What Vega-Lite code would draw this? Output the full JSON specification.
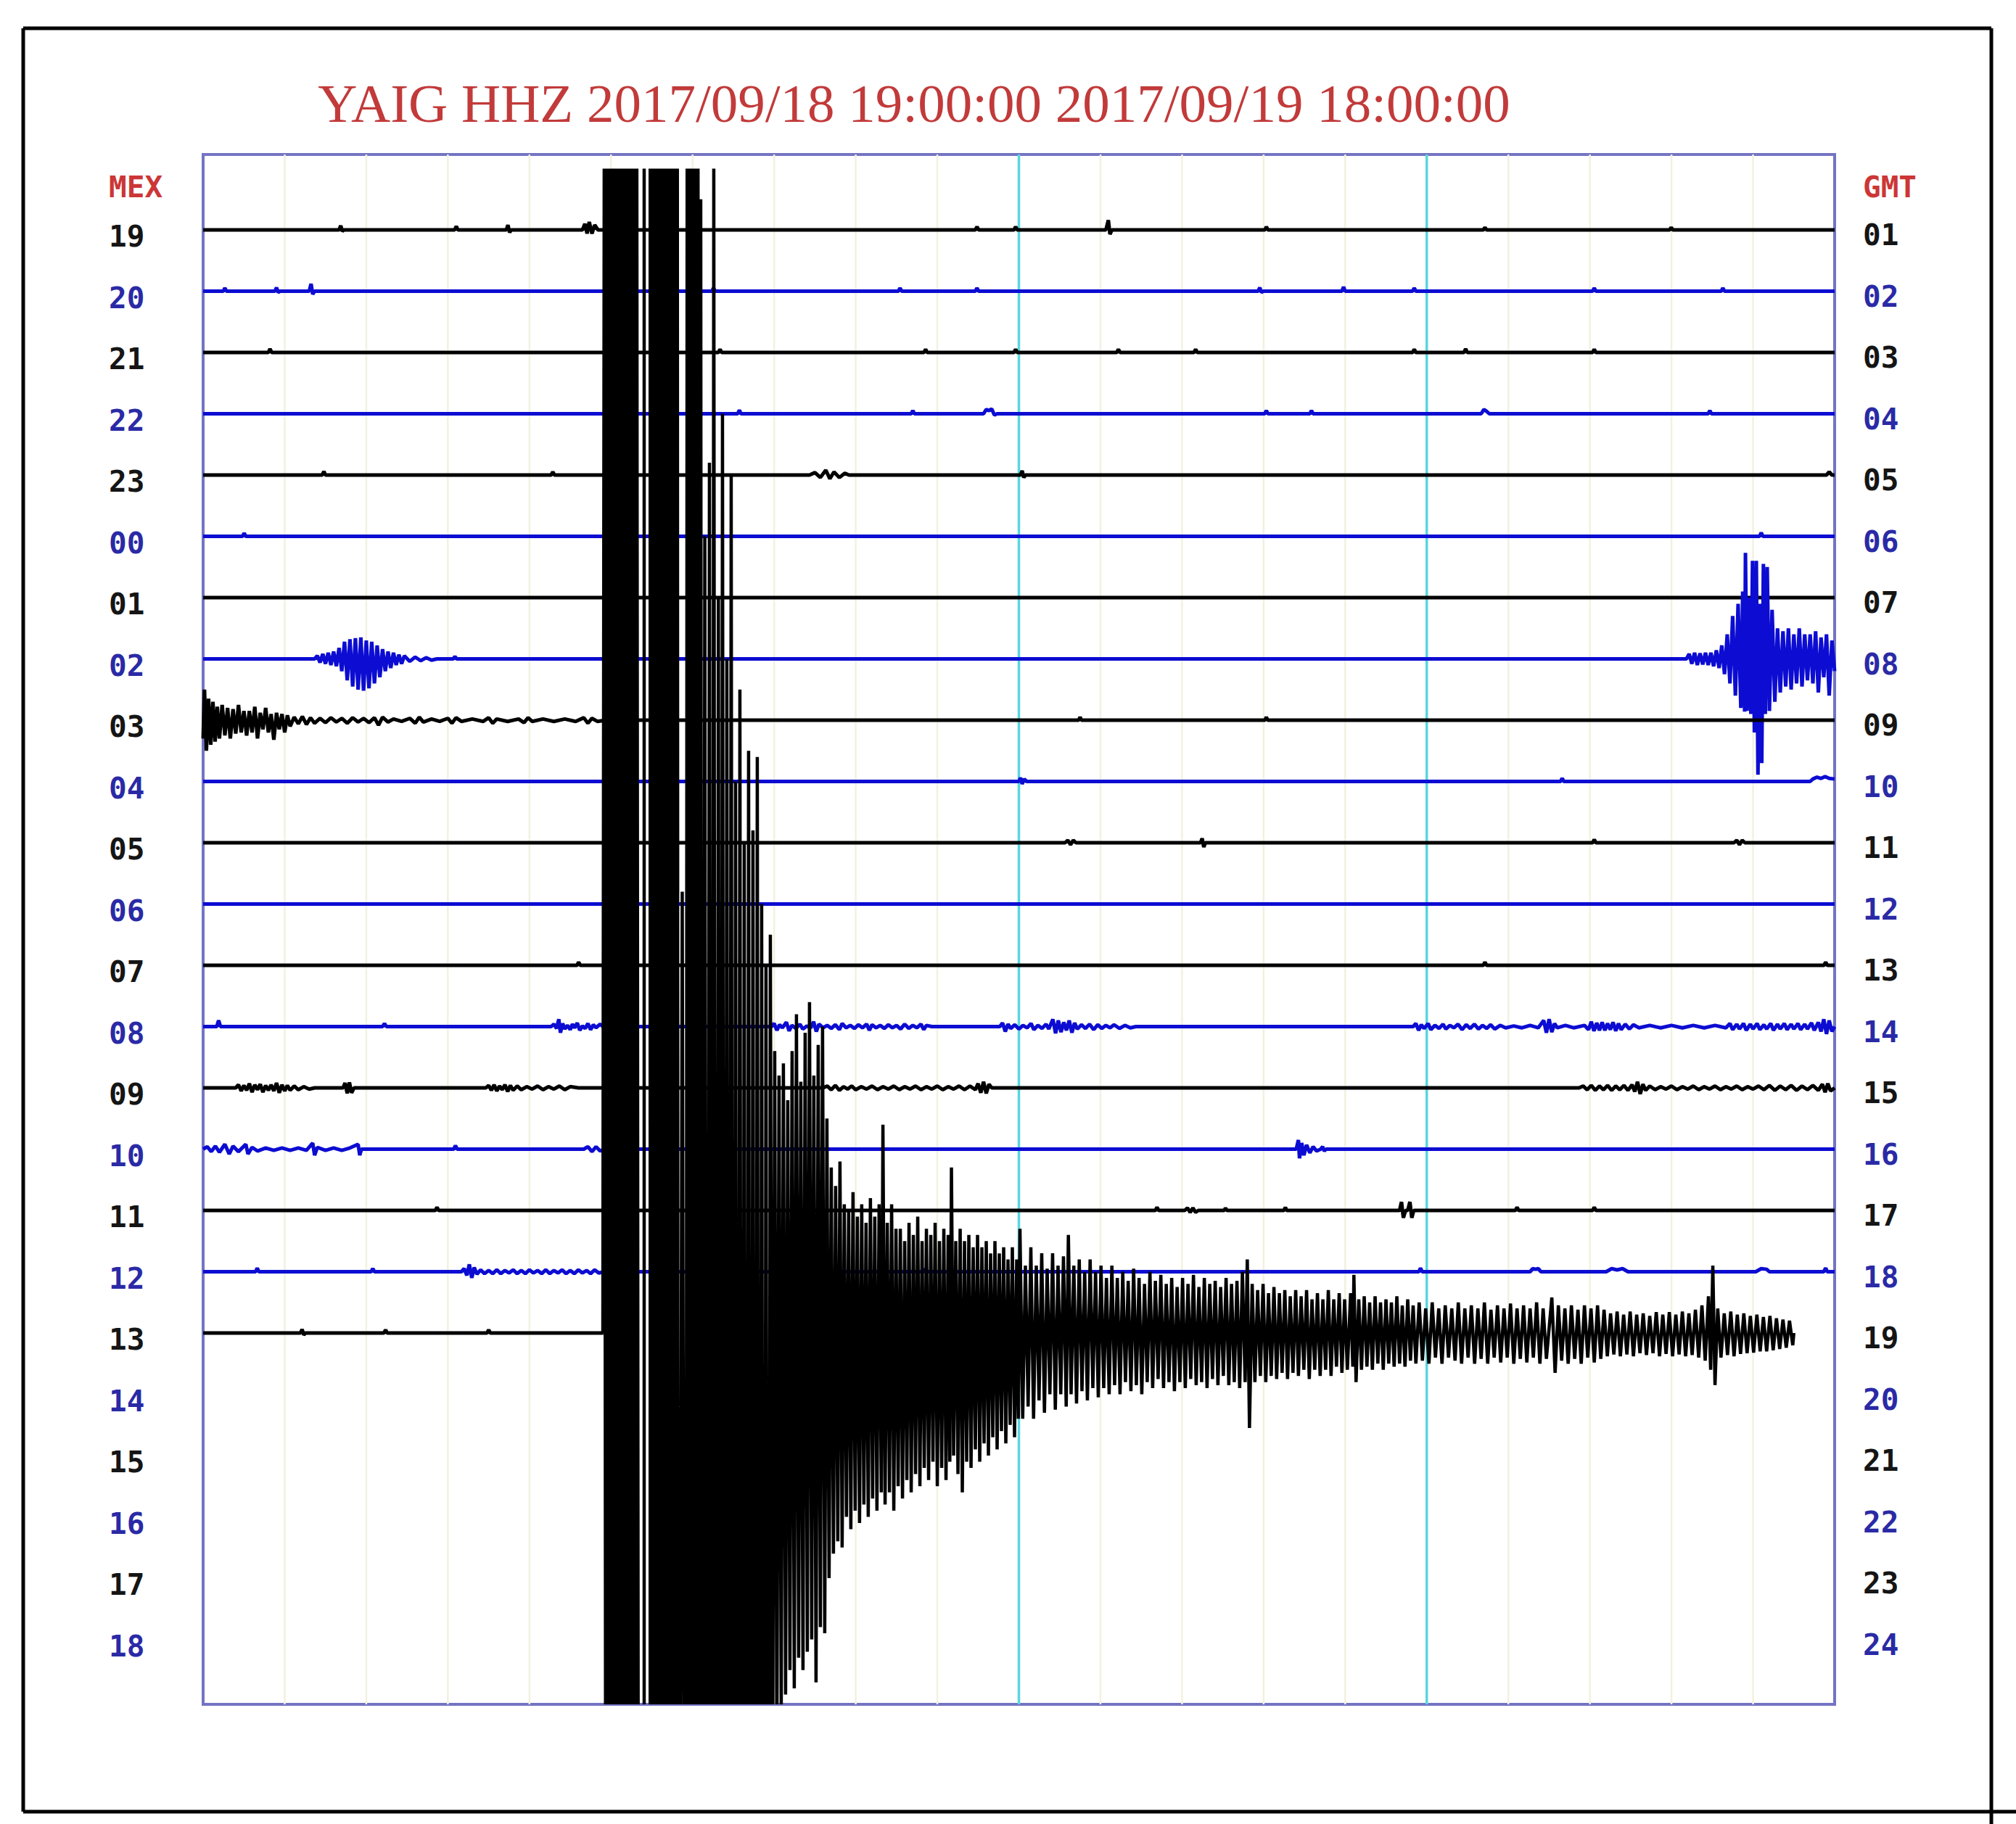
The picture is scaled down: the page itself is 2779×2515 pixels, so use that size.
{
"$schema": "https://vega.github.io/schema/vega-lite/v6.json",
"width": 2249,
"height": 2137,
"autosize": {"type": "none"},
"padding": {"left": 280, "top": 213, "right": 250, "bottom": 165},
"background": "#ffffff",
"config": {"view": {"stroke": "#7474c4", "strokeWidth": 4}},
"datasets": {
"grid": [{"t":3},{"t":6},{"t":9},{"t":12},{"t":15},{"t":18},{"t":21},{"t":24},{"t":27},{"t":33},{"t":36},{"t":39},{"t":42},{"t":48},{"t":51},{"t":54},{"t":57}],
"cyan": [{"t":30},{"t":45}],
"lab": [{"r":0,"m":"19","g":"01"},{"r":1,"m":"20","g":"02"},{"r":2,"m":"21","g":"03"},{"r":3,"m":"22","g":"04"},{"r":4,"m":"23","g":"05"},{"r":5,"m":"00","g":"06"},{"r":6,"m":"01","g":"07"},{"r":7,"m":"02","g":"08"},{"r":8,"m":"03","g":"09"},{"r":9,"m":"04","g":"10"},{"r":10,"m":"05","g":"11"},{"r":11,"m":"06","g":"12"},{"r":12,"m":"07","g":"13"},{"r":13,"m":"08","g":"14"},{"r":14,"m":"09","g":"15"},{"r":15,"m":"10","g":"16"},{"r":16,"m":"11","g":"17"},{"r":17,"m":"12","g":"18"},{"r":18,"m":"13","g":"19"},{"r":19,"m":"14","g":"20"},{"r":20,"m":"15","g":"21"},{"r":21,"m":"16","g":"22"},{"r":22,"m":"17","g":"23"},{"r":23,"m":"18","g":"24"}],
"tr": [
{"s":0,"t":0,"y":0},{"s":0,"t":5,"y":0},{"s":0,"t":5.06,"y":-0.07},{"s":0,"t":5.12,"y":0.02},{"s":0,"t":5.18,"y":0},{"s":0,"t":9.25,"y":0},{"s":0,"t":9.31,"y":-0.06},{"s":0,"t":9.37,"y":0},{"s":0,"t":11.15,"y":0},{"s":0,"t":11.21,"y":-0.08},{"s":0,"t":11.27,"y":0.04},{"s":0,"t":11.33,"y":0},{"s":0,"t":13.95,"y":0},{"s":0,"t":14.04,"y":-0.1},{"s":0,"t":14.12,"y":0.06},{"s":0,"t":14.2,"y":-0.13},{"s":0,"t":14.3,"y":0.06},{"s":0,"t":14.4,"y":-0.08},{"s":0,"t":14.52,"y":0},{"s":0,"t":28.4,"y":0},{"s":0,"t":28.46,"y":-0.05},{"s":0,"t":28.52,"y":0},{"s":0,"t":29.82,"y":0},{"s":0,"t":29.88,"y":-0.05},{"s":0,"t":29.94,"y":0},{"s":0,"t":33.2,"y":0},{"s":0,"t":33.29,"y":-0.16},{"s":0,"t":33.35,"y":0.07},{"s":0,"t":33.42,"y":0},{"s":0,"t":39.05,"y":0},{"s":0,"t":39.1,"y":-0.05},{"s":0,"t":39.16,"y":0},{"s":0,"t":47.08,"y":0},{"s":0,"t":47.14,"y":-0.04},{"s":0,"t":47.2,"y":0},{"s":0,"t":53.93,"y":0},{"s":0,"t":53.99,"y":-0.04},{"s":0,"t":54.05,"y":0},{"s":0,"t":60,"y":0},
{"s":1,"t":0,"y":1},{"s":1,"t":0.74,"y":1},{"s":1,"t":0.8,"y":0.95},{"s":1,"t":0.86,"y":1},{"s":1,"t":2.64,"y":1},{"s":1,"t":2.7,"y":0.94},{"s":1,"t":2.76,"y":1.02},{"s":1,"t":2.82,"y":1},{"s":1,"t":3.9,"y":1},{"s":1,"t":3.97,"y":0.88},{"s":1,"t":4.03,"y":1.05},{"s":1,"t":4.1,"y":1},{"s":1,"t":18.71,"y":1},{"s":1,"t":18.77,"y":0.95},{"s":1,"t":18.83,"y":1},{"s":1,"t":25.57,"y":1},{"s":1,"t":25.63,"y":0.95},{"s":1,"t":25.69,"y":1},{"s":1,"t":28.4,"y":1},{"s":1,"t":28.46,"y":0.95},{"s":1,"t":28.52,"y":1},{"s":1,"t":38.8,"y":1},{"s":1,"t":38.86,"y":0.94},{"s":1,"t":38.92,"y":1.02},{"s":1,"t":38.98,"y":1},{"s":1,"t":41.88,"y":1},{"s":1,"t":41.94,"y":0.93},{"s":1,"t":42,"y":1},{"s":1,"t":44.48,"y":1},{"s":1,"t":44.54,"y":0.95},{"s":1,"t":44.6,"y":1},{"s":1,"t":51.1,"y":1},{"s":1,"t":51.16,"y":0.95},{"s":1,"t":51.22,"y":1},{"s":1,"t":55.83,"y":1},{"s":1,"t":55.89,"y":0.95},{"s":1,"t":55.95,"y":1},{"s":1,"t":60,"y":1},
{"s":2,"t":0,"y":2},{"s":2,"t":2.4,"y":2},{"s":2,"t":2.46,"y":1.94},{"s":2,"t":2.52,"y":2},{"s":2,"t":18.95,"y":2},{"s":2,"t":19.01,"y":1.95},{"s":2,"t":19.07,"y":2},{"s":2,"t":26.51,"y":2},{"s":2,"t":26.57,"y":1.95},{"s":2,"t":26.63,"y":2},{"s":2,"t":29.82,"y":2},{"s":2,"t":29.88,"y":1.95},{"s":2,"t":29.94,"y":2},{"s":2,"t":33.6,"y":2},{"s":2,"t":33.66,"y":1.95},{"s":2,"t":33.72,"y":2},{"s":2,"t":36.44,"y":2},{"s":2,"t":36.5,"y":1.95},{"s":2,"t":36.56,"y":2},{"s":2,"t":44.48,"y":2},{"s":2,"t":44.54,"y":1.95},{"s":2,"t":44.6,"y":2},{"s":2,"t":46.37,"y":2},{"s":2,"t":46.43,"y":1.94},{"s":2,"t":46.49,"y":2},{"s":2,"t":51.1,"y":2},{"s":2,"t":51.16,"y":1.95},{"s":2,"t":51.22,"y":2},{"s":2,"t":60,"y":2},
{"s":3,"t":0,"y":3},{"s":3,"t":19.66,"y":3},{"s":3,"t":19.72,"y":2.94},{"s":3,"t":19.78,"y":3},{"s":3,"t":26.04,"y":3},{"s":3,"t":26.1,"y":2.95},{"s":3,"t":26.16,"y":3},{"s":3,"t":28.7,"y":3},{"s":3,"t":28.8,"y":2.93},{"s":3,"t":28.9,"y":2.95},{"s":3,"t":29,"y":2.92},{"s":3,"t":29.1,"y":3.02},{"s":3,"t":29.2,"y":3},{"s":3,"t":39.04,"y":3},{"s":3,"t":39.1,"y":2.95},{"s":3,"t":39.16,"y":3},{"s":3,"t":40.7,"y":3},{"s":3,"t":40.76,"y":2.95},{"s":3,"t":40.82,"y":3},{"s":3,"t":47,"y":3},{"s":3,"t":47.1,"y":2.93},{"s":3,"t":47.2,"y":2.96},{"s":3,"t":47.3,"y":3},{"s":3,"t":55.35,"y":3},{"s":3,"t":55.41,"y":2.95},{"s":3,"t":55.47,"y":3},{"s":3,"t":60,"y":3},
{"s":4,"t":0,"y":4},{"s":4,"t":4.38,"y":4},{"s":4,"t":4.44,"y":3.94},{"s":4,"t":4.5,"y":4},{"s":4,"t":12.8,"y":4},{"s":4,"t":12.86,"y":3.95},{"s":4,"t":12.92,"y":4},{"s":4,"t":22.3,"y":4},{"s":4,"t":22.5,"y":3.96},{"s":4,"t":22.7,"y":4.04},{"s":4,"t":22.9,"y":3.92},{"s":4,"t":23.05,"y":4.06},{"s":4,"t":23.2,"y":3.95},{"s":4,"t":23.4,"y":4.04},{"s":4,"t":23.6,"y":3.97},{"s":4,"t":23.75,"y":4},{"s":4,"t":30.06,"y":4},{"s":4,"t":30.12,"y":3.93},{"s":4,"t":30.18,"y":4.04},{"s":4,"t":30.24,"y":4},{"s":4,"t":59.7,"y":4},{"s":4,"t":59.8,"y":3.95},{"s":4,"t":59.9,"y":4},{"s":4,"t":60,"y":4},
{"s":5,"t":0,"y":5},{"s":5,"t":1.45,"y":5},{"s":5,"t":1.51,"y":4.95},{"s":5,"t":1.57,"y":5},{"s":5,"t":57.24,"y":5},{"s":5,"t":57.3,"y":4.94},{"s":5,"t":57.36,"y":5},{"s":5,"t":60,"y":5},
{"s":6,"t":0,"y":6},{"s":6,"t":60,"y":6},
{"s":7,"t":0,"y":7},{"s":7,"t":4.1,"y":7},{"s":7,"t":4.2,"y":6.95},{"s":7,"t":4.3,"y":7.06},{"s":7,"t":4.4,"y":6.92},{"s":7,"t":4.5,"y":7.08},{"s":7,"t":4.6,"y":6.9},{"s":7,"t":4.7,"y":7.1},{"s":7,"t":4.8,"y":6.88},{"s":7,"t":4.9,"y":7.12},{"s":7,"t":5,"y":6.82},{"s":7,"t":5.1,"y":7.2},{"s":7,"t":5.2,"y":6.72},{"s":7,"t":5.3,"y":7.35},{"s":7,"t":5.4,"y":6.68},{"s":7,"t":5.5,"y":7.45},{"s":7,"t":5.6,"y":6.66},{"s":7,"t":5.7,"y":7.5},{"s":7,"t":5.8,"y":6.65},{"s":7,"t":5.9,"y":7.52},{"s":7,"t":6,"y":6.7},{"s":7,"t":6.1,"y":7.48},{"s":7,"t":6.2,"y":6.72},{"s":7,"t":6.3,"y":7.4},{"s":7,"t":6.4,"y":6.78},{"s":7,"t":6.5,"y":7.3},{"s":7,"t":6.6,"y":6.84},{"s":7,"t":6.7,"y":7.2},{"s":7,"t":6.8,"y":6.88},{"s":7,"t":6.9,"y":7.15},{"s":7,"t":7,"y":6.9},{"s":7,"t":7.1,"y":7.1},{"s":7,"t":7.2,"y":6.93},{"s":7,"t":7.3,"y":7.08},{"s":7,"t":7.4,"y":6.95},{"s":7,"t":7.6,"y":7.04},{"s":7,"t":7.8,"y":6.97},{"s":7,"t":8,"y":7.03},{"s":7,"t":8.2,"y":6.98},{"s":7,"t":8.4,"y":7.02},{"s":7,"t":8.6,"y":7},{"s":7,"t":9.2,"y":7},{"s":7,"t":9.26,"y":6.96},{"s":7,"t":9.32,"y":7},
{"s":7,"t":54.55,"y":7},{"s":7,"t":54.65,"y":6.92},{"s":7,"t":54.75,"y":7.08},{"s":7,"t":54.85,"y":6.9},{"s":7,"t":54.95,"y":7.1},{"s":7,"t":55.05,"y":6.91},{"s":7,"t":55.15,"y":7.09},{"s":7,"t":55.25,"y":6.9},{"s":7,"t":55.35,"y":7.1},{"s":7,"t":55.45,"y":6.9},{"s":7,"t":55.55,"y":7.12},{"s":7,"t":55.65,"y":6.86},{"s":7,"t":55.75,"y":7.15},{"s":7,"t":55.85,"y":6.78},{"s":7,"t":55.95,"y":7.25},{"s":7,"t":56.05,"y":6.6},{"s":7,"t":56.15,"y":7.4},{"s":7,"t":56.25,"y":6.3},{"s":7,"t":56.35,"y":7.6},{"s":7,"t":56.45,"y":6.1},{"s":7,"t":56.55,"y":7.8},{"s":7,"t":56.62,"y":5.9},{"s":7,"t":56.69,"y":7.86},{"s":7,"t":56.72,"y":5.27},{"s":7,"t":56.78,"y":7.85},{"s":7,"t":56.85,"y":6},{"s":7,"t":56.92,"y":7.9},{"s":7,"t":56.98,"y":5.4},{"s":7,"t":57.05,"y":8.2},{"s":7,"t":57.12,"y":5.4},{"s":7,"t":57.18,"y":8.89},{"s":7,"t":57.25,"y":6.1},{"s":7,"t":57.32,"y":8.7},{"s":7,"t":57.38,"y":5.45},{"s":7,"t":57.45,"y":7.9},{"s":7,"t":57.52,"y":5.5},{"s":7,"t":57.6,"y":7.85},{"s":7,"t":57.7,"y":6.2},{"s":7,"t":57.8,"y":7.7},{"s":7,"t":57.9,"y":6.5},{"s":7,"t":58,"y":7.55},{"s":7,"t":58.1,"y":6.55},{"s":7,"t":58.2,"y":7.45},{"s":7,"t":58.3,"y":6.5},{"s":7,"t":58.4,"y":7.5},{"s":7,"t":58.5,"y":6.6},{"s":7,"t":58.6,"y":7.4},{"s":7,"t":58.7,"y":6.5},{"s":7,"t":58.8,"y":7.45},{"s":7,"t":58.9,"y":6.6},{"s":7,"t":59,"y":7.35},{"s":7,"t":59.1,"y":6.6},{"s":7,"t":59.2,"y":7.4},{"s":7,"t":59.3,"y":6.55},{"s":7,"t":59.4,"y":7.55},{"s":7,"t":59.5,"y":6.65},{"s":7,"t":59.6,"y":7.3},{"s":7,"t":59.7,"y":6.6},{"s":7,"t":59.8,"y":7.6},{"s":7,"t":59.9,"y":6.7},{"s":7,"t":60,"y":7.2},
{"s":8,"t":0,"y":8.3},{"s":8,"t":0.05,"y":7.5},{"s":8,"t":0.12,"y":8.5},{"s":8,"t":0.2,"y":7.65},{"s":8,"t":0.28,"y":8.4},{"s":8,"t":0.36,"y":7.7},{"s":8,"t":0.44,"y":8.35},{"s":8,"t":0.52,"y":7.78},{"s":8,"t":0.6,"y":8.3},{"s":8,"t":0.7,"y":7.75},{"s":8,"t":0.8,"y":8.25},{"s":8,"t":0.9,"y":7.8},{"s":8,"t":1,"y":8.3},{"s":8,"t":1.1,"y":7.82},{"s":8,"t":1.2,"y":8.22},{"s":8,"t":1.3,"y":7.75},{"s":8,"t":1.4,"y":8.2},{"s":8,"t":1.5,"y":7.85},{"s":8,"t":1.6,"y":8.25},{"s":8,"t":1.7,"y":7.85},{"s":8,"t":1.8,"y":8.2},{"s":8,"t":1.9,"y":7.78},{"s":8,"t":2,"y":8.3},{"s":8,"t":2.1,"y":7.88},{"s":8,"t":2.2,"y":8.15},{"s":8,"t":2.3,"y":7.8},{"s":8,"t":2.4,"y":8.2},{"s":8,"t":2.5,"y":7.9},{"s":8,"t":2.6,"y":8.32},{"s":8,"t":2.7,"y":7.88},{"s":8,"t":2.8,"y":8.15},{"s":8,"t":2.9,"y":7.9},{"s":8,"t":3,"y":8.2},{"s":8,"t":3.1,"y":7.92},{"s":8,"t":3.2,"y":8.1},{"s":8,"t":3.35,"y":7.95},{"s":8,"t":3.5,"y":8.06},{"s":8,"t":3.65,"y":7.94},{"s":8,"t":3.8,"y":8.07},{"s":8,"t":3.95,"y":7.96},{"s":8,"t":4.1,"y":8.05},{"s":8,"t":4.3,"y":7.97},{"s":8,"t":4.5,"y":8.04},{"s":8,"t":4.7,"y":7.96},{"s":8,"t":4.9,"y":8.03},{"s":8,"t":5.1,"y":7.97},{"s":8,"t":5.3,"y":8.05},{"s":8,"t":5.5,"y":7.96},{"s":8,"t":5.7,"y":8.03},{"s":8,"t":5.9,"y":7.97},{"s":8,"t":6.1,"y":8.04},{"s":8,"t":6.3,"y":7.96},{"s":8,"t":6.45,"y":8.08},{"s":8,"t":6.6,"y":7.95},{"s":8,"t":6.8,"y":8.03},{"s":8,"t":7,"y":7.98},{"s":8,"t":7.3,"y":8.02},{"s":8,"t":7.6,"y":7.97},{"s":8,"t":7.8,"y":8.05},{"s":8,"t":7.95,"y":7.95},{"s":8,"t":8.1,"y":8.03},{"s":8,"t":8.4,"y":7.98},{"s":8,"t":8.7,"y":8.02},{"s":8,"t":9,"y":7.97},{"s":8,"t":9.15,"y":8.05},{"s":8,"t":9.3,"y":7.96},{"s":8,"t":9.5,"y":8.02},{"s":8,"t":9.9,"y":7.98},{"s":8,"t":10.3,"y":8.02},{"s":8,"t":10.5,"y":7.96},{"s":8,"t":10.65,"y":8.05},{"s":8,"t":10.8,"y":7.98},{"s":8,"t":11.2,"y":8.02},{"s":8,"t":11.6,"y":7.98},{"s":8,"t":11.8,"y":8.04},{"s":8,"t":11.95,"y":7.96},{"s":8,"t":12.1,"y":8.02},{"s":8,"t":12.5,"y":7.98},{"s":8,"t":12.9,"y":8.02},{"s":8,"t":13.3,"y":7.98},{"s":8,"t":13.7,"y":8.02},{"s":8,"t":14,"y":7.96},{"s":8,"t":14.15,"y":8.05},{"s":8,"t":14.3,"y":7.97},{"s":8,"t":14.5,"y":8.02},{"s":8,"t":14.8,"y":8},{"s":8,"t":32.2,"y":8},{"s":8,"t":32.25,"y":7.95},{"s":8,"t":32.3,"y":8},{"s":8,"t":39.05,"y":8},{"s":8,"t":39.1,"y":7.95},{"s":8,"t":39.15,"y":8},{"s":8,"t":60,"y":8},
{"s":9,"t":0,"y":9},{"s":9,"t":30,"y":9},{"s":9,"t":30.06,"y":8.94},{"s":9,"t":30.12,"y":9.04},{"s":9,"t":30.2,"y":8.96},{"s":9,"t":30.28,"y":9},{"s":9,"t":49.92,"y":9},{"s":9,"t":49.98,"y":8.95},{"s":9,"t":50.04,"y":9},{"s":9,"t":59.1,"y":9},{"s":9,"t":59.2,"y":8.96},{"s":9,"t":59.35,"y":8.93},{"s":9,"t":59.5,"y":8.95},{"s":9,"t":59.65,"y":8.92},{"s":9,"t":59.8,"y":8.95},{"s":9,"t":60,"y":8.96},
{"s":10,"t":0,"y":10},{"s":10,"t":31.7,"y":10},{"s":10,"t":31.8,"y":9.96},{"s":10,"t":31.9,"y":10.03},{"s":10,"t":32,"y":9.96},{"s":10,"t":32.1,"y":10},{"s":10,"t":36.68,"y":10},{"s":10,"t":36.74,"y":9.93},{"s":10,"t":36.8,"y":10.07},{"s":10,"t":36.86,"y":10},{"s":10,"t":51.1,"y":10},{"s":10,"t":51.16,"y":9.95},{"s":10,"t":51.22,"y":10},{"s":10,"t":56.3,"y":10},{"s":10,"t":56.4,"y":9.96},{"s":10,"t":56.5,"y":10.03},{"s":10,"t":56.6,"y":9.96},{"s":10,"t":56.7,"y":10},{"s":10,"t":60,"y":10},
{"s":11,"t":0,"y":11},{"s":11,"t":60,"y":11},
{"s":12,"t":0,"y":12},{"s":12,"t":13.75,"y":12},{"s":12,"t":13.81,"y":11.95},{"s":12,"t":13.87,"y":12},{"s":12,"t":47.08,"y":12},{"s":12,"t":47.14,"y":11.95},{"s":12,"t":47.2,"y":12},{"s":12,"t":59.61,"y":12},{"s":12,"t":59.67,"y":11.95},{"s":12,"t":59.73,"y":12},{"s":12,"t":60,"y":12},
{"s":13,"t":0,"y":13},{"s":13,"t":0.5,"y":13},{"s":13,"t":0.57,"y":12.9},{"s":13,"t":0.64,"y":13},{"s":13,"t":6.6,"y":13},{"s":13,"t":6.67,"y":12.95},{"s":13,"t":6.74,"y":13},{"s":13,"t":12.8,"y":13},{"s":13,"t":12.9,"y":12.96},{"s":13,"t":13,"y":13.03},{"s":13,"t":13.08,"y":12.88},{"s":13,"t":13.14,"y":13.1},{"s":13,"t":13.22,"y":12.95},{"s":13,"t":13.3,"y":13.04},{"s":13,"t":13.4,"y":12.98},{"s":13,"t":13.5,"y":13.05},{"s":13,"t":13.58,"y":12.96},{"s":13,"t":13.66,"y":13.02},{"s":13,"t":13.76,"y":12.94},{"s":13,"t":13.85,"y":13.06},{"s":13,"t":13.95,"y":12.99},{"s":13,"t":14.05,"y":13.03},{"s":13,"t":14.15,"y":12.95},{"s":13,"t":14.25,"y":13.05},{"s":13,"t":14.35,"y":12.97},{"s":13,"t":14.45,"y":13.02},{"s":13,"t":14.6,"y":12.96},{"s":13,"t":14.7,"y":13},
{"s":13,"t":20.9,"y":13},{"s":13,"t":21,"y":12.95},{"s":13,"t":21.1,"y":13.06},{"s":13,"t":21.2,"y":12.97},{"s":13,"t":21.3,"y":13.02},{"s":13,"t":21.45,"y":12.93},{"s":13,"t":21.55,"y":13.07},{"s":13,"t":21.65,"y":12.98},{"s":13,"t":21.8,"y":13.03},{"s":13,"t":21.95,"y":12.96},{"s":13,"t":22.05,"y":13.04},{"s":13,"t":22.2,"y":12.99},{"s":13,"t":22.35,"y":13.02},{"s":13,"t":22.45,"y":12.92},{"s":13,"t":22.55,"y":13.08},{"s":13,"t":22.65,"y":12.96},{"s":13,"t":22.8,"y":13.02},{"s":13,"t":22.95,"y":12.98},{"s":13,"t":23.1,"y":13.03},{"s":13,"t":23.25,"y":12.97},{"s":13,"t":23.4,"y":13.05},{"s":13,"t":23.5,"y":12.95},{"s":13,"t":23.65,"y":13.02},{"s":13,"t":23.8,"y":12.98},{"s":13,"t":23.95,"y":13.03},{"s":13,"t":24.1,"y":12.97},{"s":13,"t":24.25,"y":13.02},{"s":13,"t":24.4,"y":12.96},{"s":13,"t":24.5,"y":13.06},{"s":13,"t":24.6,"y":12.97},{"s":13,"t":24.75,"y":13.02},{"s":13,"t":24.9,"y":12.98},{"s":13,"t":25.05,"y":13.03},{"s":13,"t":25.2,"y":12.97},{"s":13,"t":25.35,"y":13.02},{"s":13,"t":25.5,"y":12.98},{"s":13,"t":25.65,"y":13.04},{"s":13,"t":25.8,"y":12.96},{"s":13,"t":25.95,"y":13.03},{"s":13,"t":26.1,"y":12.98},{"s":13,"t":26.25,"y":13.02},{"s":13,"t":26.4,"y":12.96},{"s":13,"t":26.5,"y":13.05},{"s":13,"t":26.6,"y":12.98},{"s":13,"t":26.8,"y":13},
{"s":13,"t":29.3,"y":13},{"s":13,"t":29.4,"y":12.94},{"s":13,"t":29.5,"y":13.08},{"s":13,"t":29.6,"y":12.96},{"s":13,"t":29.7,"y":13.03},{"s":13,"t":29.85,"y":12.97},{"s":13,"t":30,"y":13.04},{"s":13,"t":30.15,"y":12.98},{"s":13,"t":30.3,"y":13.02},{"s":13,"t":30.45,"y":12.95},{"s":13,"t":30.55,"y":13.05},{"s":13,"t":30.7,"y":12.98},{"s":13,"t":30.85,"y":13.03},{"s":13,"t":31,"y":12.96},{"s":13,"t":31.1,"y":13.04},{"s":13,"t":31.25,"y":12.88},{"s":13,"t":31.35,"y":13.11},{"s":13,"t":31.45,"y":12.9},{"s":13,"t":31.55,"y":13.09},{"s":13,"t":31.65,"y":12.93},{"s":13,"t":31.75,"y":13.06},{"s":13,"t":31.85,"y":12.9},{"s":13,"t":31.95,"y":13.1},{"s":13,"t":32.05,"y":12.94},{"s":13,"t":32.15,"y":13.04},{"s":13,"t":32.3,"y":12.97},{"s":13,"t":32.45,"y":13.03},{"s":13,"t":32.6,"y":12.96},{"s":13,"t":32.75,"y":13.05},{"s":13,"t":32.9,"y":12.97},{"s":13,"t":33.05,"y":13.03},{"s":13,"t":33.2,"y":12.98},{"s":13,"t":33.35,"y":13.02},{"s":13,"t":33.5,"y":12.97},{"s":13,"t":33.7,"y":13.03},{"s":13,"t":33.9,"y":12.98},{"s":13,"t":34.1,"y":13.02},{"s":13,"t":34.3,"y":13},
{"s":13,"t":44.5,"y":13},{"s":13,"t":44.6,"y":12.95},{"s":13,"t":44.7,"y":13.06},{"s":13,"t":44.8,"y":12.97},{"s":13,"t":44.9,"y":13.03},{"s":13,"t":45.05,"y":12.95},{"s":13,"t":45.15,"y":13.05},{"s":13,"t":45.3,"y":12.98},{"s":13,"t":45.45,"y":13.03},{"s":13,"t":45.6,"y":12.96},{"s":13,"t":45.7,"y":13.04},{"s":13,"t":45.85,"y":12.98},{"s":13,"t":46,"y":13.02},{"s":13,"t":46.15,"y":12.96},{"s":13,"t":46.3,"y":13.05},{"s":13,"t":46.45,"y":12.97},{"s":13,"t":46.6,"y":13.03},{"s":13,"t":46.75,"y":12.96},{"s":13,"t":46.9,"y":13.04},{"s":13,"t":47.05,"y":12.98},{"s":13,"t":47.2,"y":13.03},{"s":13,"t":47.35,"y":12.97},{"s":13,"t":47.5,"y":13.04},{"s":13,"t":47.7,"y":12.98},{"s":13,"t":47.9,"y":13.02},{"s":13,"t":48.2,"y":12.99},{"s":13,"t":48.5,"y":13.02},{"s":13,"t":48.8,"y":12.98},{"s":13,"t":49.1,"y":13.02},{"s":13,"t":49.3,"y":12.9},{"s":13,"t":49.4,"y":13.1},{"s":13,"t":49.5,"y":12.88},{"s":13,"t":49.6,"y":13.09},{"s":13,"t":49.7,"y":12.95},{"s":13,"t":49.8,"y":13.02},{"s":13,"t":50.1,"y":12.98},{"s":13,"t":50.4,"y":13.02},{"s":13,"t":50.8,"y":12.98},{"s":13,"t":50.95,"y":13.05},{"s":13,"t":51.05,"y":12.92},{"s":13,"t":51.15,"y":13.07},{"s":13,"t":51.25,"y":12.94},{"s":13,"t":51.35,"y":13.06},{"s":13,"t":51.45,"y":12.93},{"s":13,"t":51.55,"y":13.06},{"s":13,"t":51.65,"y":12.95},{"s":13,"t":51.75,"y":13.05},{"s":13,"t":51.85,"y":12.93},{"s":13,"t":51.95,"y":13.07},{"s":13,"t":52.05,"y":12.95},{"s":13,"t":52.15,"y":13.05},{"s":13,"t":52.3,"y":12.96},{"s":13,"t":52.45,"y":13.04},{"s":13,"t":52.6,"y":12.97},{"s":13,"t":52.8,"y":13.02},{"s":13,"t":53.2,"y":12.98},{"s":13,"t":53.6,"y":13.02},{"s":13,"t":54,"y":12.98},{"s":13,"t":54.4,"y":13.02},{"s":13,"t":54.8,"y":12.98},{"s":13,"t":55.2,"y":13.02},{"s":13,"t":55.6,"y":12.98},{"s":13,"t":56,"y":13.02},{"s":13,"t":56.15,"y":12.95},{"s":13,"t":56.25,"y":13.05},{"s":13,"t":56.4,"y":12.96},{"s":13,"t":56.5,"y":13.04},{"s":13,"t":56.65,"y":12.95},{"s":13,"t":56.75,"y":13.06},{"s":13,"t":56.9,"y":12.96},{"s":13,"t":57,"y":13.04},{"s":13,"t":57.15,"y":12.95},{"s":13,"t":57.25,"y":13.05},{"s":13,"t":57.4,"y":12.97},{"s":13,"t":57.5,"y":13.04},{"s":13,"t":57.65,"y":12.95},{"s":13,"t":57.75,"y":13.06},{"s":13,"t":57.9,"y":12.96},{"s":13,"t":58,"y":13.04},{"s":13,"t":58.15,"y":12.95},{"s":13,"t":58.25,"y":13.05},{"s":13,"t":58.4,"y":12.96},{"s":13,"t":58.5,"y":13.04},{"s":13,"t":58.65,"y":12.95},{"s":13,"t":58.75,"y":13.05},{"s":13,"t":58.9,"y":12.96},{"s":13,"t":59,"y":13.04},{"s":13,"t":59.15,"y":12.94},{"s":13,"t":59.25,"y":13.06},{"s":13,"t":59.4,"y":12.93},{"s":13,"t":59.5,"y":13.08},{"s":13,"t":59.6,"y":12.88},{"s":13,"t":59.7,"y":13.12},{"s":13,"t":59.8,"y":12.9},{"s":13,"t":59.9,"y":13.08},{"s":13,"t":60,"y":13},
{"s":14,"t":0,"y":14},{"s":14,"t":1.2,"y":14},{"s":14,"t":1.3,"y":13.95},{"s":14,"t":1.4,"y":14.05},{"s":14,"t":1.5,"y":13.96},{"s":14,"t":1.6,"y":14.04},{"s":14,"t":1.7,"y":13.93},{"s":14,"t":1.8,"y":14.07},{"s":14,"t":1.9,"y":13.95},{"s":14,"t":2,"y":14.03},{"s":14,"t":2.1,"y":13.94},{"s":14,"t":2.2,"y":14.07},{"s":14,"t":2.3,"y":13.96},{"s":14,"t":2.4,"y":14.04},{"s":14,"t":2.5,"y":13.95},{"s":14,"t":2.6,"y":14.05},{"s":14,"t":2.7,"y":13.92},{"s":14,"t":2.8,"y":14.08},{"s":14,"t":2.9,"y":13.95},{"s":14,"t":3,"y":14.05},{"s":14,"t":3.1,"y":13.96},{"s":14,"t":3.2,"y":14.04},{"s":14,"t":3.35,"y":13.97},{"s":14,"t":3.5,"y":14.03},{"s":14,"t":3.7,"y":13.98},{"s":14,"t":3.9,"y":14.02},{"s":14,"t":4.1,"y":14},{"s":14,"t":5.15,"y":14},{"s":14,"t":5.22,"y":13.92},{"s":14,"t":5.3,"y":14.09},{"s":14,"t":5.38,"y":13.91},{"s":14,"t":5.46,"y":14.08},{"s":14,"t":5.55,"y":14},
{"s":14,"t":10.4,"y":14},{"s":14,"t":10.5,"y":13.96},{"s":14,"t":10.6,"y":14.04},{"s":14,"t":10.7,"y":13.95},{"s":14,"t":10.8,"y":14.05},{"s":14,"t":10.9,"y":13.97},{"s":14,"t":11,"y":14.03},{"s":14,"t":11.1,"y":13.95},{"s":14,"t":11.2,"y":14.06},{"s":14,"t":11.3,"y":13.96},{"s":14,"t":11.4,"y":14.04},{"s":14,"t":11.55,"y":13.97},{"s":14,"t":11.7,"y":14.03},{"s":14,"t":11.9,"y":13.98},{"s":14,"t":12.1,"y":14.02},{"s":14,"t":12.3,"y":13.97},{"s":14,"t":12.5,"y":14.03},{"s":14,"t":12.7,"y":13.98},{"s":14,"t":12.9,"y":14.02},{"s":14,"t":13.1,"y":13.97},{"s":14,"t":13.3,"y":14.03},{"s":14,"t":13.5,"y":13.98},{"s":14,"t":13.8,"y":14},
{"s":14,"t":22.8,"y":14},{"s":14,"t":22.95,"y":13.97},{"s":14,"t":23.1,"y":14.03},{"s":14,"t":23.25,"y":13.96},{"s":14,"t":23.4,"y":14.04},{"s":14,"t":23.55,"y":13.98},{"s":14,"t":23.7,"y":14.02},{"s":14,"t":23.85,"y":13.97},{"s":14,"t":24,"y":14.03},{"s":14,"t":24.2,"y":13.98},{"s":14,"t":24.4,"y":14.02},{"s":14,"t":24.6,"y":13.97},{"s":14,"t":24.8,"y":14.03},{"s":14,"t":25,"y":13.98},{"s":14,"t":25.2,"y":14.02},{"s":14,"t":25.4,"y":13.97},{"s":14,"t":25.6,"y":14.03},{"s":14,"t":25.8,"y":13.98},{"s":14,"t":26,"y":14.02},{"s":14,"t":26.2,"y":13.97},{"s":14,"t":26.4,"y":14.03},{"s":14,"t":26.6,"y":13.98},{"s":14,"t":26.8,"y":14.02},{"s":14,"t":27,"y":13.97},{"s":14,"t":27.2,"y":14.03},{"s":14,"t":27.4,"y":13.98},{"s":14,"t":27.6,"y":14.02},{"s":14,"t":27.8,"y":13.97},{"s":14,"t":28,"y":14.03},{"s":14,"t":28.2,"y":13.97},{"s":14,"t":28.4,"y":14.03},{"s":14,"t":28.5,"y":13.93},{"s":14,"t":28.6,"y":14.08},{"s":14,"t":28.7,"y":13.9},{"s":14,"t":28.8,"y":14.09},{"s":14,"t":28.9,"y":13.94},{"s":14,"t":29,"y":14},
{"s":14,"t":50.6,"y":14},{"s":14,"t":50.75,"y":13.97},{"s":14,"t":50.9,"y":14.03},{"s":14,"t":51.05,"y":13.96},{"s":14,"t":51.2,"y":14.04},{"s":14,"t":51.35,"y":13.97},{"s":14,"t":51.5,"y":14.03},{"s":14,"t":51.65,"y":13.96},{"s":14,"t":51.8,"y":14.04},{"s":14,"t":51.95,"y":13.97},{"s":14,"t":52.1,"y":14.03},{"s":14,"t":52.25,"y":13.96},{"s":14,"t":52.4,"y":14.04},{"s":14,"t":52.55,"y":13.95},{"s":14,"t":52.65,"y":14.06},{"s":14,"t":52.75,"y":13.9},{"s":14,"t":52.85,"y":14.1},{"s":14,"t":52.95,"y":13.94},{"s":14,"t":53.05,"y":14.04},{"s":14,"t":53.2,"y":13.97},{"s":14,"t":53.4,"y":14.03},{"s":14,"t":53.6,"y":13.98},{"s":14,"t":53.8,"y":14.02},{"s":14,"t":54,"y":13.97},{"s":14,"t":54.2,"y":14.03},{"s":14,"t":54.4,"y":13.98},{"s":14,"t":54.6,"y":14.02},{"s":14,"t":54.8,"y":13.97},{"s":14,"t":55,"y":14.03},{"s":14,"t":55.2,"y":13.98},{"s":14,"t":55.4,"y":14.02},{"s":14,"t":55.6,"y":13.97},{"s":14,"t":55.8,"y":14.03},{"s":14,"t":56,"y":13.98},{"s":14,"t":56.2,"y":14.02},{"s":14,"t":56.4,"y":13.97},{"s":14,"t":56.6,"y":14.03},{"s":14,"t":56.8,"y":13.98},{"s":14,"t":57,"y":14.02},{"s":14,"t":57.2,"y":13.97},{"s":14,"t":57.4,"y":14.03},{"s":14,"t":57.6,"y":13.96},{"s":14,"t":57.8,"y":14.04},{"s":14,"t":58,"y":13.97},{"s":14,"t":58.2,"y":14.03},{"s":14,"t":58.4,"y":13.96},{"s":14,"t":58.6,"y":14.04},{"s":14,"t":58.8,"y":13.97},{"s":14,"t":59,"y":14.03},{"s":14,"t":59.2,"y":13.96},{"s":14,"t":59.4,"y":14.04},{"s":14,"t":59.55,"y":13.94},{"s":14,"t":59.65,"y":14.07},{"s":14,"t":59.75,"y":13.93},{"s":14,"t":59.85,"y":14.05},{"s":14,"t":60,"y":14},
{"s":15,"t":0,"y":15},{"s":15,"t":0.15,"y":14.96},{"s":15,"t":0.3,"y":15.04},{"s":15,"t":0.45,"y":14.95},{"s":15,"t":0.6,"y":15.05},{"s":15,"t":0.8,"y":14.92},{"s":15,"t":0.96,"y":15.08},{"s":15,"t":1.1,"y":14.95},{"s":15,"t":1.3,"y":15.04},{"s":15,"t":1.57,"y":14.92},{"s":15,"t":1.65,"y":15.08},{"s":15,"t":1.8,"y":14.97},{"s":15,"t":2,"y":15.03},{"s":15,"t":2.3,"y":14.98},{"s":15,"t":2.6,"y":15.02},{"s":15,"t":2.9,"y":14.98},{"s":15,"t":3.2,"y":15.02},{"s":15,"t":3.5,"y":14.98},{"s":15,"t":3.8,"y":15.02},{"s":15,"t":4.03,"y":14.9},{"s":15,"t":4.1,"y":15.1},{"s":15,"t":4.2,"y":14.97},{"s":15,"t":4.5,"y":15.02},{"s":15,"t":4.8,"y":14.98},{"s":15,"t":5.1,"y":15.02},{"s":15,"t":5.4,"y":14.98},{"s":15,"t":5.7,"y":14.92},{"s":15,"t":5.76,"y":15.1},{"s":15,"t":5.82,"y":15},{"s":15,"t":9.22,"y":15},{"s":15,"t":9.28,"y":14.94},{"s":15,"t":9.34,"y":15},{"s":15,"t":14,"y":15},{"s":15,"t":14.15,"y":14.96},{"s":15,"t":14.3,"y":15.04},{"s":15,"t":14.45,"y":14.96},{"s":15,"t":14.6,"y":15.03},{"s":15,"t":14.75,"y":15},{"s":15,"t":40.2,"y":15},{"s":15,"t":40.28,"y":14.85},{"s":15,"t":40.32,"y":15.15},{"s":15,"t":40.4,"y":14.9},{"s":15,"t":40.48,"y":15.1},{"s":15,"t":40.58,"y":14.93},{"s":15,"t":40.7,"y":15.06},{"s":15,"t":40.82,"y":14.96},{"s":15,"t":40.95,"y":15.03},{"s":15,"t":41.1,"y":15},{"s":15,"t":41.17,"y":14.96},{"s":15,"t":41.23,"y":15.03},{"s":15,"t":41.3,"y":15},{"s":15,"t":60,"y":15},
{"s":16,"t":0,"y":16},{"s":16,"t":8.54,"y":16},{"s":16,"t":8.6,"y":15.95},{"s":16,"t":8.66,"y":16},{"s":16,"t":35.02,"y":16},{"s":16,"t":35.08,"y":15.95},{"s":16,"t":35.14,"y":16},{"s":16,"t":36.1,"y":16},{"s":16,"t":36.2,"y":15.96},{"s":16,"t":36.3,"y":16.03},{"s":16,"t":36.4,"y":15.96},{"s":16,"t":36.5,"y":16.03},{"s":16,"t":36.6,"y":16},{"s":16,"t":37.55,"y":16},{"s":16,"t":37.6,"y":15.96},{"s":16,"t":37.65,"y":16},{"s":16,"t":39.75,"y":16},{"s":16,"t":39.8,"y":15.95},{"s":16,"t":39.85,"y":16},{"s":16,"t":44,"y":16},{"s":16,"t":44.07,"y":15.86},{"s":16,"t":44.14,"y":16.12},{"s":16,"t":44.22,"y":16},{"s":16,"t":44.3,"y":16},{"s":16,"t":44.38,"y":15.86},{"s":16,"t":44.45,"y":16.12},{"s":16,"t":44.52,"y":16},{"s":16,"t":48.26,"y":16},{"s":16,"t":48.32,"y":15.95},{"s":16,"t":48.38,"y":16},{"s":16,"t":51.1,"y":16},{"s":16,"t":51.16,"y":15.95},{"s":16,"t":51.22,"y":16},{"s":16,"t":60,"y":16},
{"s":17,"t":0,"y":17},{"s":17,"t":1.93,"y":17},{"s":17,"t":1.99,"y":16.94},{"s":17,"t":2.05,"y":17},{"s":17,"t":6.18,"y":17},{"s":17,"t":6.24,"y":16.95},{"s":17,"t":6.3,"y":17},{"s":17,"t":9.5,"y":17},{"s":17,"t":9.6,"y":16.95},{"s":17,"t":9.7,"y":17.06},{"s":17,"t":9.79,"y":16.88},{"s":17,"t":9.88,"y":17.1},{"s":17,"t":9.97,"y":16.93},{"s":17,"t":10.07,"y":17.04},{"s":17,"t":10.2,"y":16.97},{"s":17,"t":10.35,"y":17.03},{"s":17,"t":10.5,"y":16.98},{"s":17,"t":10.65,"y":17.03},{"s":17,"t":10.8,"y":16.97},{"s":17,"t":10.95,"y":17.03},{"s":17,"t":11.1,"y":16.98},{"s":17,"t":11.25,"y":17.02},{"s":17,"t":11.4,"y":16.97},{"s":17,"t":11.55,"y":17.03},{"s":17,"t":11.7,"y":16.98},{"s":17,"t":11.85,"y":17.03},{"s":17,"t":12,"y":16.97},{"s":17,"t":12.15,"y":17.02},{"s":17,"t":12.3,"y":16.98},{"s":17,"t":12.45,"y":17.03},{"s":17,"t":12.6,"y":16.97},{"s":17,"t":12.75,"y":17.03},{"s":17,"t":12.9,"y":16.98},{"s":17,"t":13.05,"y":17.02},{"s":17,"t":13.2,"y":16.97},{"s":17,"t":13.35,"y":17.03},{"s":17,"t":13.5,"y":16.98},{"s":17,"t":13.65,"y":17.03},{"s":17,"t":13.8,"y":16.97},{"s":17,"t":13.95,"y":17.02},{"s":17,"t":14.1,"y":16.98},{"s":17,"t":14.25,"y":17.03},{"s":17,"t":14.4,"y":16.97},{"s":17,"t":14.55,"y":17.02},{"s":17,"t":14.75,"y":17},{"s":17,"t":26.51,"y":17},{"s":17,"t":26.57,"y":16.95},{"s":17,"t":26.63,"y":17},{"s":17,"t":44.71,"y":17},{"s":17,"t":44.77,"y":16.94},{"s":17,"t":44.83,"y":17},{"s":17,"t":48.8,"y":17},{"s":17,"t":48.9,"y":16.95},{"s":17,"t":49,"y":16.96},{"s":17,"t":49.1,"y":16.95},{"s":17,"t":49.2,"y":17},{"s":17,"t":51.6,"y":17},{"s":17,"t":51.8,"y":16.95},{"s":17,"t":52,"y":16.97},{"s":17,"t":52.2,"y":16.95},{"s":17,"t":52.4,"y":17},{"s":17,"t":57.1,"y":17},{"s":17,"t":57.3,"y":16.95},{"s":17,"t":57.5,"y":16.96},{"s":17,"t":57.6,"y":17},{"s":17,"t":59.6,"y":17},{"s":17,"t":59.67,"y":16.94},{"s":17,"t":59.73,"y":17},{"s":17,"t":60,"y":17},
{"s":18,"t":0,"y":18},{"s":18,"t":3.58,"y":18},{"s":18,"t":3.64,"y":17.94},{"s":18,"t":3.7,"y":18.03},{"s":18,"t":3.76,"y":18},{"s":18,"t":6.65,"y":18},{"s":18,"t":6.71,"y":17.95},{"s":18,"t":6.77,"y":18},{"s":18,"t":10.44,"y":18},{"s":18,"t":10.5,"y":17.95},{"s":18,"t":10.56,"y":18},{"s":18,"t":14.72,"y":18}
],
"qk": [
{"t":14.7,"y":18},{"t":14.75,"y":-1},{"t":14.8,"y":25},{"t":14.85,"y":-1},{"t":14.9,"y":25},{"t":14.95,"y":-1},{"t":15,"y":25},{"t":15.05,"y":-1},{"t":15.1,"y":25},{"t":15.15,"y":-1},{"t":15.2,"y":25},{"t":15.25,"y":-1},{"t":15.3,"y":25},{"t":15.35,"y":-1},{"t":15.4,"y":25},{"t":15.45,"y":-1},{"t":15.5,"y":25},{"t":15.55,"y":-1},{"t":15.6,"y":25},{"t":15.65,"y":-1},{"t":15.7,"y":25},{"t":15.75,"y":-1},{"t":15.8,"y":25},{"t":15.85,"y":-1},{"t":15.9,"y":25},{"t":15.95,"y":-1},{"t":16,"y":25},
{"t":16.22,"y":25},{"t":16.22,"y":-1},{"t":16.22,"y":25},{"t":16.44,"y":25},{"t":16.44,"y":-1},
{"t":16.49,"y":25},{"t":16.54,"y":-1},{"t":16.59,"y":25},{"t":16.64,"y":-1},{"t":16.69,"y":25},{"t":16.74,"y":-1},{"t":16.79,"y":25},{"t":16.84,"y":-1},{"t":16.89,"y":25},{"t":16.94,"y":-1},{"t":16.99,"y":25},{"t":17.04,"y":-1},{"t":17.09,"y":25},{"t":17.14,"y":-1},{"t":17.19,"y":25},{"t":17.24,"y":-1},{"t":17.29,"y":25},{"t":17.34,"y":-1},{"t":17.39,"y":25},{"t":17.44,"y":-1},{"t":17.48,"y":40},
{"t":17.62,"y":10.8},{"t":17.75,"y":40},{"t":17.8,"y":-1},{"t":17.85,"y":40},{"t":17.9,"y":-1},{"t":17.95,"y":40},{"t":18,"y":-1},{"t":18.05,"y":40},{"t":18.1,"y":-1},{"t":18.15,"y":40},{"t":18.2,"y":-1},{"t":18.25,"y":40},{"t":18.3,"y":-0.5},{"t":18.36,"y":40},
{"t":18.45,"y":5},{"t":18.53,"y":40},{"t":18.62,"y":3.8},{"t":18.7,"y":40},{"t":18.78,"y":-1},{"t":18.86,"y":40},{"t":18.95,"y":6},{"t":19.02,"y":40},{"t":19.1,"y":3},{"t":19.18,"y":40},{"t":19.26,"y":7},{"t":19.34,"y":40},{"t":19.42,"y":4},{"t":19.5,"y":40},{"t":19.58,"y":9},{"t":19.66,"y":40},{"t":19.74,"y":7.5},{"t":19.82,"y":40},{"t":19.9,"y":10},{"t":19.98,"y":40},{"t":20.06,"y":8.5},{"t":20.14,"y":40},{"t":20.22,"y":9.8},{"t":20.3,"y":40},{"t":20.38,"y":8.6},{"t":20.46,"y":40},{"t":20.54,"y":11},{"t":20.62,"y":40},{"t":20.7,"y":12},{"t":20.78,"y":40},{"t":20.86,"y":11.5},{"t":20.94,"y":26},
{"t":21.02,"y":13.4},{"t":21.1,"y":24.8},{"t":21.18,"y":13.8},{"t":21.26,"y":24.2},{"t":21.34,"y":13.6},{"t":21.42,"y":23.9},{"t":21.5,"y":14.2},{"t":21.58,"y":23.5},{"t":21.66,"y":13.4},{"t":21.74,"y":23.8},{"t":21.82,"y":12.8},{"t":21.9,"y":23.3},{"t":21.98,"y":13.9},{"t":22.06,"y":23.5},{"t":22.14,"y":13.1},{"t":22.22,"y":23.2},{"t":22.3,"y":12.6},{"t":22.38,"y":23},{"t":22.46,"y":13.8},{"t":22.54,"y":23.7},{"t":22.62,"y":13.3},{"t":22.7,"y":22.8},{"t":22.78,"y":13},{"t":22.86,"y":22.9},{"t":22.94,"y":14.5},{"t":23.02,"y":22},
{"t":23.1,"y":15.3},{"t":23.18,"y":21.6},{"t":23.26,"y":15.6},{"t":23.34,"y":21.4},{"t":23.42,"y":15.2},{"t":23.5,"y":21.5},{"t":23.58,"y":15.9},{"t":23.66,"y":21},{"t":23.74,"y":16},{"t":23.82,"y":21.2},{"t":23.9,"y":15.7},{"t":23.98,"y":20.9},{"t":24.06,"y":16.1},{"t":24.14,"y":21.1},{"t":24.22,"y":15.9},{"t":24.3,"y":20.8},{"t":24.38,"y":16.2},{"t":24.46,"y":21},{"t":24.54,"y":15.8},{"t":24.62,"y":20.7},{"t":24.7,"y":16.1},{"t":24.78,"y":20.9},{"t":24.86,"y":15.9},{"t":24.94,"y":20.6},{"t":25,"y":14.6},{"t":25.08,"y":20.8},{"t":25.16,"y":16.2},{"t":25.24,"y":20.6},{"t":25.32,"y":15.9},{"t":25.4,"y":20.9},{"t":25.48,"y":16.3},{"t":25.56,"y":20.5},
{"t":25.64,"y":16.3},{"t":25.72,"y":20.7},{"t":25.8,"y":16.5},{"t":25.88,"y":20.4},{"t":25.96,"y":16.2},{"t":26.04,"y":20.6},{"t":26.12,"y":16.4},{"t":26.2,"y":20.3},{"t":26.28,"y":16.1},{"t":26.36,"y":20.5},{"t":26.44,"y":16.5},{"t":26.52,"y":20.2},{"t":26.6,"y":16.3},{"t":26.68,"y":20.4},{"t":26.76,"y":16.4},{"t":26.84,"y":20.1},{"t":26.92,"y":16.2},{"t":27,"y":20.5},{"t":27.08,"y":16.5},{"t":27.16,"y":20.2},{"t":27.24,"y":16.3},{"t":27.32,"y":20.4},{"t":27.4,"y":16.4},{"t":27.46,"y":20.1},{"t":27.52,"y":15.3},{"t":27.6,"y":20},{"t":27.68,"y":16.5},{"t":27.76,"y":20.3},{"t":27.84,"y":16.3},{"t":27.92,"y":20.6},{"t":28,"y":16.5},{"t":28.08,"y":20.1},{"t":28.16,"y":16.4},{"t":28.24,"y":20.2},{"t":28.32,"y":16.6},{"t":28.4,"y":19.9},{"t":28.48,"y":16.4},{"t":28.56,"y":20.1},{"t":28.64,"y":16.6},{"t":28.72,"y":19.8},{"t":28.8,"y":16.5},{"t":28.88,"y":20},{"t":28.96,"y":16.7},{"t":29.04,"y":19.7},{"t":29.12,"y":16.5},{"t":29.2,"y":19.9},{"t":29.28,"y":16.7},{"t":29.36,"y":19.6},{"t":29.44,"y":16.6},{"t":29.52,"y":19.8},{"t":29.6,"y":16.8},{"t":29.68,"y":19.5},{"t":29.76,"y":16.6},{"t":29.84,"y":19.7},{"t":29.92,"y":16.8},{"t":29.98,"y":19.4},
{"t":30.04,"y":16.3},{"t":30.14,"y":19.4},{"t":30.24,"y":16.9},{"t":30.34,"y":19.2},{"t":30.44,"y":16.6},{"t":30.54,"y":19.4},{"t":30.64,"y":16.9},{"t":30.74,"y":19.1},{"t":30.84,"y":16.7},{"t":30.94,"y":19.3},{"t":31.04,"y":16.95},{"t":31.14,"y":19},{"t":31.24,"y":16.7},{"t":31.34,"y":19.25},{"t":31.44,"y":16.9},{"t":31.54,"y":19},{"t":31.64,"y":16.75},{"t":31.74,"y":19.2},{"t":31.82,"y":16.4},{"t":31.92,"y":19},{"t":32.02,"y":16.9},{"t":32.12,"y":19.15},{"t":32.22,"y":16.8},{"t":32.32,"y":18.95},{"t":32.42,"y":17},{"t":32.52,"y":19.1},{"t":32.62,"y":16.8},{"t":32.72,"y":18.9},{"t":32.82,"y":17},{"t":32.92,"y":19.05},{"t":33.02,"y":16.9},{"t":33.12,"y":18.9},{"t":33.22,"y":17.1},{"t":33.32,"y":19},{"t":33.42,"y":16.9},{"t":33.52,"y":18.85},{"t":33.62,"y":17.1},{"t":33.72,"y":19},{"t":33.82,"y":17},{"t":33.92,"y":18.8},{"t":34.02,"y":17.15},{"t":34.12,"y":18.95},{"t":34.22,"y":16.95},{"t":34.32,"y":18.85},{"t":34.42,"y":17.1},{"t":34.52,"y":19},{"t":34.62,"y":17.2},{"t":34.72,"y":18.8},{"t":34.82,"y":17},{"t":34.92,"y":18.9},{"t":35.02,"y":17.15},{"t":35.12,"y":18.75},{"t":35.22,"y":17.05},{"t":35.32,"y":18.9},{"t":35.42,"y":17.2},{"t":35.52,"y":18.8},{"t":35.62,"y":17.1},{"t":35.72,"y":18.95},{"t":35.82,"y":17.25},{"t":35.92,"y":18.8},{"t":36.02,"y":17.1},{"t":36.12,"y":18.9},{"t":36.22,"y":17.2},{"t":36.32,"y":18.75},{"t":36.42,"y":17.05},{"t":36.52,"y":18.85},{"t":36.62,"y":17.25},{"t":36.72,"y":18.8},{"t":36.82,"y":17.1},{"t":36.92,"y":18.9},{"t":37.02,"y":17.2},{"t":37.12,"y":18.75},{"t":37.22,"y":17.15},{"t":37.32,"y":18.85},{"t":37.42,"y":17.25},{"t":37.52,"y":18.7},{"t":37.62,"y":17.1},{"t":37.72,"y":18.85},{"t":37.82,"y":17.2},{"t":37.92,"y":18.8},{"t":38.02,"y":17.15},{"t":38.12,"y":18.9},{"t":38.22,"y":17},{"t":38.32,"y":18.8},{"t":38.4,"y":16.8},{"t":38.48,"y":19.55},{"t":38.58,"y":17.2},{"t":38.68,"y":18.8},{"t":38.78,"y":17.3},{"t":38.88,"y":18.7},{"t":38.98,"y":17.2},{"t":39.08,"y":18.8},{"t":39.18,"y":17.35},{"t":39.28,"y":18.7},{"t":39.38,"y":17.25},{"t":39.48,"y":18.75},{"t":39.58,"y":17.35},{"t":39.68,"y":18.65},{"t":39.78,"y":17.3},{"t":39.88,"y":18.75},{"t":39.98,"y":17.4},{"t":40.08,"y":18.65},{"t":40.18,"y":17.3},{"t":40.28,"y":18.7},{"t":40.38,"y":17.4},{"t":40.48,"y":18.6},{"t":40.58,"y":17.3},{"t":40.68,"y":18.75},{"t":40.78,"y":17.45},{"t":40.88,"y":18.6},{"t":40.98,"y":17.35},{"t":41.08,"y":18.7},{"t":41.18,"y":17.45},{"t":41.28,"y":18.6},{"t":41.38,"y":17.3},{"t":41.48,"y":18.7},{"t":41.58,"y":17.45},{"t":41.68,"y":18.55},{"t":41.78,"y":17.35},{"t":41.88,"y":18.65},{"t":41.98,"y":17.45},{"t":42.08,"y":18.6},{"t":42.2,"y":17.35},{"t":42.28,"y":18.55},{"t":42.32,"y":17.05},{"t":42.4,"y":18.8},{"t":42.5,"y":17.45},{"t":42.6,"y":18.6},{"t":42.7,"y":17.4},{"t":42.8,"y":18.55},{"t":42.9,"y":17.5},{"t":43,"y":18.6},{"t":43.1,"y":17.4},{"t":43.2,"y":18.5},{"t":43.3,"y":17.5},{"t":43.4,"y":18.6},{"t":43.5,"y":17.45},{"t":43.6,"y":18.5},{"t":43.7,"y":17.5},{"t":43.8,"y":18.55},{"t":43.9,"y":17.4},{"t":44,"y":18.5},{"t":44.1,"y":17.55},{"t":44.2,"y":18.55},{"t":44.3,"y":17.45},{"t":44.4,"y":18.45},{"t":44.5,"y":17.55},{"t":44.6,"y":18.5},
{"t":44.72,"y":17.5},{"t":44.84,"y":18.45},{"t":44.96,"y":17.6},{"t":45.08,"y":18.5},{"t":45.2,"y":17.5},{"t":45.32,"y":18.4},{"t":45.44,"y":17.6},{"t":45.56,"y":18.5},{"t":45.68,"y":17.55},{"t":45.8,"y":18.4},{"t":45.92,"y":17.6},{"t":46.04,"y":18.45},{"t":46.16,"y":17.5},{"t":46.28,"y":18.5},{"t":46.4,"y":17.6},{"t":46.52,"y":18.4},{"t":46.64,"y":17.55},{"t":46.76,"y":18.5},{"t":46.88,"y":17.6},{"t":47,"y":18.42},{"t":47.12,"y":17.5},{"t":47.24,"y":18.5},{"t":47.36,"y":17.62},{"t":47.48,"y":18.4},{"t":47.6,"y":17.55},{"t":47.72,"y":18.48},{"t":47.84,"y":17.6},{"t":47.96,"y":18.4},{"t":48.08,"y":17.52},{"t":48.2,"y":18.5},{"t":48.32,"y":17.6},{"t":48.44,"y":18.42},{"t":48.56,"y":17.55},{"t":48.68,"y":18.48},{"t":48.8,"y":17.6},{"t":48.92,"y":18.4},{"t":49.04,"y":17.5},{"t":49.16,"y":18.5},{"t":49.28,"y":17.6},{"t":49.4,"y":18.42},{"t":49.6,"y":17.42},{"t":49.72,"y":18.65},{"t":49.84,"y":17.55},{"t":49.96,"y":18.45},{"t":50.08,"y":17.6},{"t":50.2,"y":18.5},{"t":50.32,"y":17.55},{"t":50.44,"y":18.42},{"t":50.56,"y":17.62},{"t":50.68,"y":18.5},{"t":50.8,"y":17.55},{"t":50.92,"y":18.4},{"t":51.04,"y":17.6},{"t":51.16,"y":18.48},{"t":51.28,"y":17.55},{"t":51.4,"y":18.42},{"t":51.52,"y":17.62},{"t":51.64,"y":18.38},{"t":51.76,"y":17.68},{"t":51.88,"y":18.35},{"t":52,"y":17.65},{"t":52.12,"y":18.38},{"t":52.24,"y":17.7},{"t":52.36,"y":18.35},{"t":52.48,"y":17.65},{"t":52.6,"y":18.38},{"t":52.72,"y":17.7},{"t":52.84,"y":18.33},{"t":52.96,"y":17.68},{"t":53.08,"y":18.36},{"t":53.2,"y":17.72},{"t":53.32,"y":18.33},{"t":53.44,"y":17.66},{"t":53.56,"y":18.38},{"t":53.68,"y":17.7},{"t":53.8,"y":18.34},{"t":53.92,"y":17.66},{"t":54.04,"y":18.38},{"t":54.16,"y":17.7},{"t":54.28,"y":18.35},{"t":54.4,"y":17.65},{"t":54.52,"y":18.38},{"t":54.64,"y":17.68},{"t":54.76,"y":18.36},{"t":54.88,"y":17.62},{"t":55,"y":18.4},{"t":55.12,"y":17.55},{"t":55.24,"y":18.45},{"t":55.36,"y":17.4},{"t":55.44,"y":18.6},{"t":55.52,"y":16.9},{"t":55.6,"y":18.85},{"t":55.7,"y":17.6},{"t":55.82,"y":18.4},{"t":55.94,"y":17.68},{"t":56.06,"y":18.36},{"t":56.18,"y":17.65},{"t":56.3,"y":18.38},{"t":56.42,"y":17.7},{"t":56.54,"y":18.34},{"t":56.66,"y":17.68},{"t":56.78,"y":18.33},{"t":56.9,"y":17.72},{"t":57.02,"y":18.32},{"t":57.14,"y":17.7},{"t":57.26,"y":18.3},{"t":57.38,"y":17.74},{"t":57.5,"y":18.3},{"t":57.62,"y":17.72},{"t":57.74,"y":18.28},{"t":57.86,"y":17.76},{"t":57.98,"y":18.26},{"t":58.1,"y":17.78},{"t":58.22,"y":18.24},{"t":58.34,"y":17.8},{"t":58.46,"y":18.2},{"t":58.5,"y":18}
]
},
"layer": [
{"data": {"name": "grid"}, "mark": {"type": "rule", "color": "#f2f1e0", "strokeWidth": 2.5},
 "encoding": {"x": {"field": "t", "type": "quantitative", "scale": {"domain": [0, 60], "nice": false, "zero": false}, "axis": null}}},
{"data": {"name": "cyan"}, "mark": {"type": "rule", "color": "#58d6de", "strokeWidth": 3.5},
 "encoding": {"x": {"field": "t", "type": "quantitative", "scale": {"domain": [0, 60], "nice": false, "zero": false}, "axis": null}}},
{"data": {"name": "tr"}, "mark": {"type": "line", "strokeWidth": 5, "strokeJoin": "bevel"},
 "encoding": {
  "x": {"field": "t", "type": "quantitative", "scale": {"domain": [0, 60], "nice": false, "zero": false}, "axis": null},
  "y": {"field": "y", "type": "quantitative", "scale": {"domain": [-1.2308, 24.0591], "reverse": true, "nice": false, "zero": false}, "axis": null},
  "detail": {"field": "s", "type": "nominal"},
  "order": {"value": null},
  "color": {"condition": {"test": "datum.s % 2 === 1", "value": "#0c0cd2"}, "value": "#000000"}}},
{"data": {"name": "qk"}, "mark": {"type": "line", "strokeWidth": 4.5, "strokeJoin": "bevel", "clip": true, "color": "#000000"},
 "encoding": {
  "x": {"field": "t", "type": "quantitative", "scale": {"domain": [0, 60], "nice": false, "zero": false}, "axis": null},
  "y": {"field": "y", "type": "quantitative", "scale": {"domain": [-1.2308, 24.0591], "reverse": true, "nice": false, "zero": false}, "axis": null},
  "order": {"value": null}}},
{"data": {"name": "lab"}, "mark": {"type": "text", "align": "left", "baseline": "alphabetic", "font": "DejaVu Sans Mono", "fontSize": 41, "fontWeight": "bold", "yOffset": 23},
 "encoding": {
  "x": {"datum": -3.468, "type": "quantitative", "scale": {"domain": [0, 60], "nice": false, "zero": false}, "axis": null},
  "y": {"field": "r", "type": "quantitative", "scale": {"domain": [-1.2308, 24.0591], "reverse": true, "nice": false, "zero": false}, "axis": null},
  "text": {"field": "m"},
  "color": {"condition": {"test": "datum.r % 2 === 1", "value": "#2a2aa6"}, "value": "#151515"}}},
{"data": {"name": "lab"}, "mark": {"type": "text", "align": "left", "baseline": "alphabetic", "font": "DejaVu Sans Mono", "fontSize": 41, "fontWeight": "bold", "yOffset": 21},
 "encoding": {
  "x": {"datum": 61.04, "type": "quantitative", "scale": {"domain": [0, 60], "nice": false, "zero": false}, "axis": null},
  "y": {"field": "r", "type": "quantitative", "scale": {"domain": [-1.2308, 24.0591], "reverse": true, "nice": false, "zero": false}, "axis": null},
  "text": {"field": "g"},
  "color": {"condition": {"test": "datum.r % 2 === 1", "value": "#2a2aa6"}, "value": "#151515"}}},
{"data": {"values": [{"h": "MEX"}]}, "mark": {"type": "text", "align": "left", "baseline": "alphabetic", "font": "DejaVu Sans Mono", "fontSize": 41, "fontWeight": "bold", "color": "#cc3636"},
 "encoding": {
  "x": {"datum": -3.468, "type": "quantitative", "scale": {"domain": [0, 60], "nice": false, "zero": false}, "axis": null},
  "y": {"datum": -0.5326, "type": "quantitative", "scale": {"domain": [-1.2308, 24.0591], "reverse": true, "nice": false, "zero": false}, "axis": null},
  "text": {"field": "h"}}},
{"data": {"values": [{"h": "GMT"}]}, "mark": {"type": "text", "align": "left", "baseline": "alphabetic", "font": "DejaVu Sans Mono", "fontSize": 41, "fontWeight": "bold", "color": "#cc3636"},
 "encoding": {
  "x": {"datum": 61.04, "type": "quantitative", "scale": {"domain": [0, 60], "nice": false, "zero": false}, "axis": null},
  "y": {"datum": -0.5326, "type": "quantitative", "scale": {"domain": [-1.2308, 24.0591], "reverse": true, "nice": false, "zero": false}, "axis": null},
  "text": {"field": "h"}}},
{"data": {"values": [{"h": "YAIG HHZ 2017/09/18 19:00:00 2017/09/19 18:00:00"}]}, "mark": {"type": "text", "align": "center", "baseline": "alphabetic", "font": "Liberation Serif", "fontSize": 75, "color": "#c23a3a"},
 "encoding": {
  "x": {"datum": 26.145, "type": "quantitative", "scale": {"domain": [0, 60], "nice": false, "zero": false}, "axis": null},
  "y": {"datum": -1.7633, "type": "quantitative", "scale": {"domain": [-1.2308, 24.0591], "reverse": true, "nice": false, "zero": false}, "axis": null},
  "text": {"field": "h"}}},
{"data": {"values": [{}]}, "mark": {"type": "rule", "color": "#000000", "strokeWidth": 5},
 "encoding": {
  "x": {"datum": -6.616, "type": "quantitative", "scale": {"domain": [0, 60], "nice": false, "zero": false}, "axis": null},
  "x2": {"datum": 65.763},
  "y": {"datum": -3.29, "type": "quantitative", "scale": {"domain": [-1.2308, 24.0591], "reverse": true, "nice": false, "zero": false}, "axis": null}}},
{"data": {"values": [{}]}, "mark": {"type": "rule", "color": "#000000", "strokeWidth": 5},
 "encoding": {
  "x": {"datum": -6.616, "type": "quantitative", "scale": {"domain": [0, 60], "nice": false, "zero": false}, "axis": null},
  "y": {"datum": -3.29, "type": "quantitative", "scale": {"domain": [-1.2308, 24.0591], "reverse": true, "nice": false, "zero": false}, "axis": null},
  "y2": {"datum": 25.811}}},
{"data": {"values": [{}]}, "mark": {"type": "rule", "color": "#000000", "strokeWidth": 5},
 "encoding": {
  "x": {"datum": 65.763, "type": "quantitative", "scale": {"domain": [0, 60], "nice": false, "zero": false}, "axis": null},
  "y": {"datum": -3.29, "type": "quantitative", "scale": {"domain": [-1.2308, 24.0591], "reverse": true, "nice": false, "zero": false}, "axis": null},
  "y2": {"datum": 26.1}}},
{"data": {"values": [{}]}, "mark": {"type": "rule", "color": "#000000", "strokeWidth": 5},
 "encoding": {
  "x": {"datum": -6.616, "type": "quantitative", "scale": {"domain": [0, 60], "nice": false, "zero": false}, "axis": null},
  "x2": {"datum": 66.8},
  "y": {"datum": 25.811, "type": "quantitative", "scale": {"domain": [-1.2308, 24.0591], "reverse": true, "nice": false, "zero": false}, "axis": null}}}
]
}
